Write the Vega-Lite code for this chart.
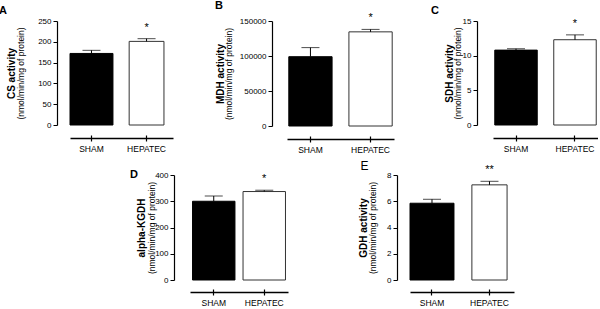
{
  "$schema": "https://vega.github.io/schema/vega-lite/v6.json",
  "padding": {"left": -1, "top": 0, "right": 0, "bottom": 0},
  "config": {
    "font": "Liberation Sans",
    "view": {"stroke": null},
    "axis": {"grid": false, "domainColor": "#000", "tickColor": "#000", "labelColor": "#000", "titleColor": "#000", "labelFont": "Liberation Sans", "titleFont": "Liberation Sans", "labelFontSize": 8, "labelFontWeight": "normal", "titleAngle": 270, "titleAlign": "center", "titleBaseline": "middle"},
    "axisX": {"labelAngle": 0, "title": null, "domainWidth": 1.5, "tickSize": 3, "tickWidth": 1.2, "labelFontSize": 8.5, "labelPadding": 3},
    "axisY": {"tickSize": 4, "labelPadding": 2, "domainWidth": 1.2},
    "title": {"font": "Liberation Sans", "color": "#000", "fontSize": 11, "fontWeight": "bold", "anchor": "start", "offset": 1},
    "text": {"font": "Liberation Sans", "color": "#000"}
  },
  "vconcat": [
    {
      "spacing": 42,
      "hconcat": [
        {
          "width": 103, "height": 104,
          "title": {"text": "A", "dx": -7},
          "data": {"values": [
            {"group": "SHAM", "mean": 172, "upper": 179.5, "sig": ""},
            {"group": "HEPATEC", "mean": 201, "upper": 207.5, "sig": "*"}
          ]},
          "encoding": {"x": {"field": "group", "type": "nominal", "sort": ["SHAM", "HEPATEC"], "scale": {"paddingInner": 0.22, "paddingOuter": 0.045, "align": 0}, "axis": null}},
          "layer": [
            {"transform": [{"filter": "datum.group === 'SHAM'"}],
             "mark": {"type": "bar", "fill": "#000", "stroke": "#000", "strokeWidth": 1},
             "encoding": {
               "x": {"field": "group", "type": "nominal", "sort": ["SHAM", "HEPATEC"], "scale": {"paddingInner": 0.22, "paddingOuter": 0.045, "align": 0}, "axis": {"orient": "bottom", "offset": 13}},
               "y": {"field": "mean", "type": "quantitative", "scale": {"domain": [0, 250]}, "axis": {"orient": "left", "values": [0, 50, 100, 150, 200, 250], "offset": 13, "title": "(nmol/min/mg of protein)", "titleFontWeight": "normal", "titleFontSize": 8.5, "titleX": -36.5, "titleY": 52}}
             }},
            {"transform": [{"filter": "datum.group === 'HEPATEC'"}],
             "mark": {"type": "bar", "fill": "#fff", "stroke": "#333", "strokeWidth": 1, "width": {"band": 0.81}},
             "encoding": {"y": {"field": "mean", "type": "quantitative", "scale": {"domain": [0, 250]}, "axis": null}}},
            {"mark": {"type": "rule", "color": "#000"}, "encoding": {"y": {"field": "mean", "type": "quantitative", "scale": {"domain": [0, 250]}, "axis": null}, "y2": {"field": "upper"}}},
            {"mark": {"type": "tick", "color": "#000", "thickness": 1, "size": 18}, "encoding": {"y": {"field": "upper", "type": "quantitative", "scale": {"domain": [0, 250]}, "axis": {"orient": "left", "offset": 13, "title": "CS activity", "titleFontWeight": "bold", "titleFontSize": 10, "titleX": -46, "titleY": 52, "labels": false, "ticks": false, "domain": false}}}},
            {"mark": {"type": "text", "dy": -8, "fontSize": 11, "baseline": "alphabetic"},
             "encoding": {
               "x": {"field": "group", "type": "nominal", "sort": ["SHAM", "HEPATEC"], "scale": {"paddingInner": 0.22, "paddingOuter": 0.045, "align": 0}, "axis": {"orient": "bottom", "offset": 10, "labels": false, "domain": false}},
               "y": {"field": "upper", "type": "quantitative", "scale": {"domain": [0, 250]}, "axis": null}, "text": {"field": "sig"}}}
          ],
          "resolve": {"axis": {"x": "independent", "y": "independent"}}
        },
        {
          "spacing": 37,
          "hconcat": [
            {
              "width": 107, "height": 105,
              "title": {"text": "B", "dx": 0},
              "data": {"values": [
                {"group": "SHAM", "mean": 99000, "upper": 112000, "sig": ""},
                {"group": "HEPATEC", "mean": 134500, "upper": 138000, "sig": "*"}
              ]},
              "encoding": {"x": {"field": "group", "type": "nominal", "sort": ["SHAM", "HEPATEC"], "scale": {"paddingInner": 0.28, "paddingOuter": 0.03}, "axis": null}},
              "layer": [
                {"transform": [{"filter": "datum.group === 'SHAM'"}],
                 "mark": {"type": "bar", "fill": "#000", "stroke": "#000", "strokeWidth": 1},
                 "encoding": {
                   "x": {"field": "group", "type": "nominal", "sort": ["SHAM", "HEPATEC"], "scale": {"paddingInner": 0.28, "paddingOuter": 0.03}, "axis": {"orient": "bottom", "offset": 13}},
                   "y": {"field": "mean", "type": "quantitative", "scale": {"domain": [0, 150000]}, "axis": {"orient": "left", "values": [0, 50000, 100000, 150000], "format": "d", "offset": 15, "title": "(nmol/min/mg of protein)", "titleFontWeight": "normal", "titleFontSize": 8.5, "titleX": -43.5, "titleY": 52.5}}
                 }},
                {"transform": [{"filter": "datum.group === 'HEPATEC'"}],
                 "mark": {"type": "bar", "fill": "#fff", "stroke": "#333", "strokeWidth": 1},
                 "encoding": {"y": {"field": "mean", "type": "quantitative", "scale": {"domain": [0, 150000]}, "axis": null}}},
                {"mark": {"type": "rule", "color": "#000"}, "encoding": {"y": {"field": "mean", "type": "quantitative", "scale": {"domain": [0, 150000]}, "axis": null}, "y2": {"field": "upper"}}},
                {"mark": {"type": "tick", "color": "#000", "thickness": 1, "size": 18}, "encoding": {"y": {"field": "upper", "type": "quantitative", "scale": {"domain": [0, 150000]}, "axis": {"orient": "left", "offset": 15, "title": "MDH activity", "titleFontWeight": "bold", "titleFontSize": 10, "titleX": -52, "titleY": 52.5, "labels": false, "ticks": false, "domain": false}}}},
                {"mark": {"type": "text", "dy": -8, "fontSize": 11, "baseline": "alphabetic"},
                 "encoding": {
                   "x": {"field": "group", "type": "nominal", "sort": ["SHAM", "HEPATEC"], "scale": {"paddingInner": 0.28, "paddingOuter": 0.03}, "axis": {"orient": "bottom", "offset": 10, "labels": false, "domain": false}},
                   "y": {"field": "upper", "type": "quantitative", "scale": {"domain": [0, 150000]}, "axis": null}, "text": {"field": "sig"}}}
              ],
              "resolve": {"axis": {"x": "independent", "y": "independent"}}
            },
            {
              "width": 105, "height": 104,
              "title": {"text": "C", "dx": -13},
              "data": {"values": [
                {"group": "SHAM", "mean": 10.8, "upper": 11.0, "sig": ""},
                {"group": "HEPATEC", "mean": 12.3, "upper": 13.0, "sig": "*"}
              ]},
              "encoding": {"x": {"field": "group", "type": "nominal", "sort": ["SHAM", "HEPATEC"], "scale": {"paddingInner": 0.28, "paddingOuter": 0.03}, "axis": null}},
              "layer": [
                {"transform": [{"filter": "datum.group === 'SHAM'"}],
                 "mark": {"type": "bar", "fill": "#000", "stroke": "#000", "strokeWidth": 1},
                 "encoding": {
                   "x": {"field": "group", "type": "nominal", "sort": ["SHAM", "HEPATEC"], "scale": {"paddingInner": 0.28, "paddingOuter": 0.03}, "axis": {"orient": "bottom", "offset": 13}},
                   "y": {"field": "mean", "type": "quantitative", "scale": {"domain": [0, 15]}, "axis": {"orient": "left", "values": [0, 5, 10, 15], "offset": 16, "title": "(nmol/min/mg of protein)", "titleFontWeight": "normal", "titleFontSize": 8.5, "titleX": -20, "titleY": 52}}
                 }},
                {"transform": [{"filter": "datum.group === 'HEPATEC'"}],
                 "mark": {"type": "bar", "fill": "#fff", "stroke": "#333", "strokeWidth": 1},
                 "encoding": {"y": {"field": "mean", "type": "quantitative", "scale": {"domain": [0, 15]}, "axis": null}}},
                {"mark": {"type": "rule", "color": "#000"}, "encoding": {"y": {"field": "mean", "type": "quantitative", "scale": {"domain": [0, 15]}, "axis": null}, "y2": {"field": "upper"}}},
                {"mark": {"type": "tick", "color": "#000", "thickness": 1, "size": 18}, "encoding": {"y": {"field": "upper", "type": "quantitative", "scale": {"domain": [0, 15]}, "axis": {"orient": "left", "offset": 16, "title": "SDH activity", "titleFontWeight": "bold", "titleFontSize": 10, "titleX": -28, "titleY": 52, "labels": false, "ticks": false, "domain": false}}}},
                {"mark": {"type": "text", "dy": -8, "fontSize": 11, "baseline": "alphabetic"},
                 "encoding": {
                   "x": {"field": "group", "type": "nominal", "sort": ["SHAM", "HEPATEC"], "scale": {"paddingInner": 0.28, "paddingOuter": 0.03}, "axis": {"orient": "bottom", "offset": 10, "labels": false, "domain": false}},
                   "y": {"field": "upper", "type": "quantitative", "scale": {"domain": [0, 15]}, "axis": null}, "text": {"field": "sig"}}}
              ],
              "resolve": {"axis": {"x": "independent", "y": "independent"}}
            }
          ]
        }
      ]
    },
    {
      "spacing": 0,
      "hconcat": [
        {"width": 60, "height": 1, "data": {"values": [{"t": ""}]}, "mark": {"type": "text"}, "encoding": {"text": {"field": "t"}}},
        {
          "spacing": 70,
          "hconcat": [
            {
              "width": 98, "height": 105,
              "title": {"text": "D", "dx": -6, "offset": -9},
              "data": {"values": [
                {"group": "SHAM", "mean": 300, "upper": 320, "sig": ""},
                {"group": "HEPATEC", "mean": 337, "upper": 342, "sig": "*"}
              ]},
              "encoding": {"x": {"field": "group", "type": "nominal", "sort": ["SHAM", "HEPATEC"], "scale": {"paddingInner": 0.16, "paddingOuter": 0.05}, "axis": null}},
              "layer": [
                {"transform": [{"filter": "datum.group === 'SHAM'"}],
                 "mark": {"type": "bar", "fill": "#000", "stroke": "#000", "strokeWidth": 1},
                 "encoding": {
                   "x": {"field": "group", "type": "nominal", "sort": ["SHAM", "HEPATEC"], "scale": {"paddingInner": 0.16, "paddingOuter": 0.05}, "axis": {"orient": "bottom", "offset": 12}},
                   "y": {"field": "mean", "type": "quantitative", "scale": {"domain": [0, 400]}, "axis": {"orient": "left", "values": [0, 100, 200, 300, 400], "offset": 16, "title": "(nmol/min/mg of protein)", "titleFontWeight": "normal", "titleFontSize": 8.5, "titleX": -23, "titleY": 52.5}}
                 }},
                {"transform": [{"filter": "datum.group === 'HEPATEC'"}],
                 "mark": {"type": "bar", "fill": "#fff", "stroke": "#333", "strokeWidth": 1},
                 "encoding": {"y": {"field": "mean", "type": "quantitative", "scale": {"domain": [0, 400]}, "axis": null}}},
                {"mark": {"type": "rule", "color": "#000"}, "encoding": {"y": {"field": "mean", "type": "quantitative", "scale": {"domain": [0, 400]}, "axis": null}, "y2": {"field": "upper"}}},
                {"mark": {"type": "tick", "color": "#000", "thickness": 1, "size": 18}, "encoding": {"y": {"field": "upper", "type": "quantitative", "scale": {"domain": [0, 400]}, "axis": {"orient": "left", "offset": 16, "title": "alpha-KGDH", "titleFontWeight": "bold", "titleFontSize": 10, "titleX": -33, "titleY": 52.5, "labels": false, "ticks": false, "domain": false}}}},
                {"mark": {"type": "text", "dy": -8, "fontSize": 11, "baseline": "alphabetic"},
                 "encoding": {
                   "x": {"field": "group", "type": "nominal", "sort": ["SHAM", "HEPATEC"], "scale": {"paddingInner": 0.16, "paddingOuter": 0.05}, "axis": {"orient": "bottom", "offset": 9, "labels": false, "domain": false}},
                   "y": {"field": "upper", "type": "quantitative", "scale": {"domain": [0, 400]}, "axis": null}, "text": {"field": "sig"}}}
              ],
              "resolve": {"axis": {"x": "independent", "y": "independent"}}
            },
            {
              "width": 104, "height": 105,
              "title": {"text": "E", "dx": 2, "offset": -9, "fontWeight": "normal", "fontSize": 12},
              "data": {"values": [
                {"group": "SHAM", "mean": 5.85, "upper": 6.15, "sig": ""},
                {"group": "HEPATEC", "mean": 7.25, "upper": 7.52, "sig": "**"}
              ]},
              "encoding": {"x": {"field": "group", "type": "nominal", "sort": ["SHAM", "HEPATEC"], "scale": {"paddingInner": 0.235, "paddingOuter": 0.022, "align": 0}, "axis": null}},
              "layer": [
                {"transform": [{"filter": "datum.group === 'SHAM'"}],
                 "mark": {"type": "bar", "fill": "#000", "stroke": "#000", "strokeWidth": 1},
                 "encoding": {
                   "x": {"field": "group", "type": "nominal", "sort": ["SHAM", "HEPATEC"], "scale": {"paddingInner": 0.235, "paddingOuter": 0.022, "align": 0}, "axis": {"orient": "bottom", "offset": 12}},
                   "y": {"field": "mean", "type": "quantitative", "scale": {"domain": [0, 8]}, "axis": {"orient": "left", "values": [0, 2, 4, 6, 8], "offset": 13, "title": "(nmol/min/mg of protein)", "titleFontWeight": "normal", "titleFontSize": 8.5, "titleX": -25, "titleY": 52.5}}
                 }},
                {"transform": [{"filter": "datum.group === 'HEPATEC'"}],
                 "mark": {"type": "bar", "fill": "#fff", "stroke": "#333", "strokeWidth": 1, "width": {"band": 0.8}},
                 "encoding": {"y": {"field": "mean", "type": "quantitative", "scale": {"domain": [0, 8]}, "axis": null}}},
                {"mark": {"type": "rule", "color": "#000"}, "encoding": {"y": {"field": "mean", "type": "quantitative", "scale": {"domain": [0, 8]}, "axis": null}, "y2": {"field": "upper"}}},
                {"mark": {"type": "tick", "color": "#000", "thickness": 1, "size": 18}, "encoding": {"y": {"field": "upper", "type": "quantitative", "scale": {"domain": [0, 8]}, "axis": {"orient": "left", "offset": 13, "title": "GDH activity", "titleFontWeight": "bold", "titleFontSize": 10, "titleX": -33.5, "titleY": 52.5, "labels": false, "ticks": false, "domain": false}}}},
                {"mark": {"type": "text", "dy": -8, "fontSize": 11, "baseline": "alphabetic"},
                 "encoding": {
                   "x": {"field": "group", "type": "nominal", "sort": ["SHAM", "HEPATEC"], "scale": {"paddingInner": 0.235, "paddingOuter": 0.022, "align": 0}, "axis": {"orient": "bottom", "offset": 9, "labels": false, "domain": false}},
                   "y": {"field": "upper", "type": "quantitative", "scale": {"domain": [0, 8]}, "axis": null}, "text": {"field": "sig"}}}
              ],
              "resolve": {"axis": {"x": "independent", "y": "independent"}}
            }
          ]
        }
      ]
    }
  ],
  "spacing": 6
}
